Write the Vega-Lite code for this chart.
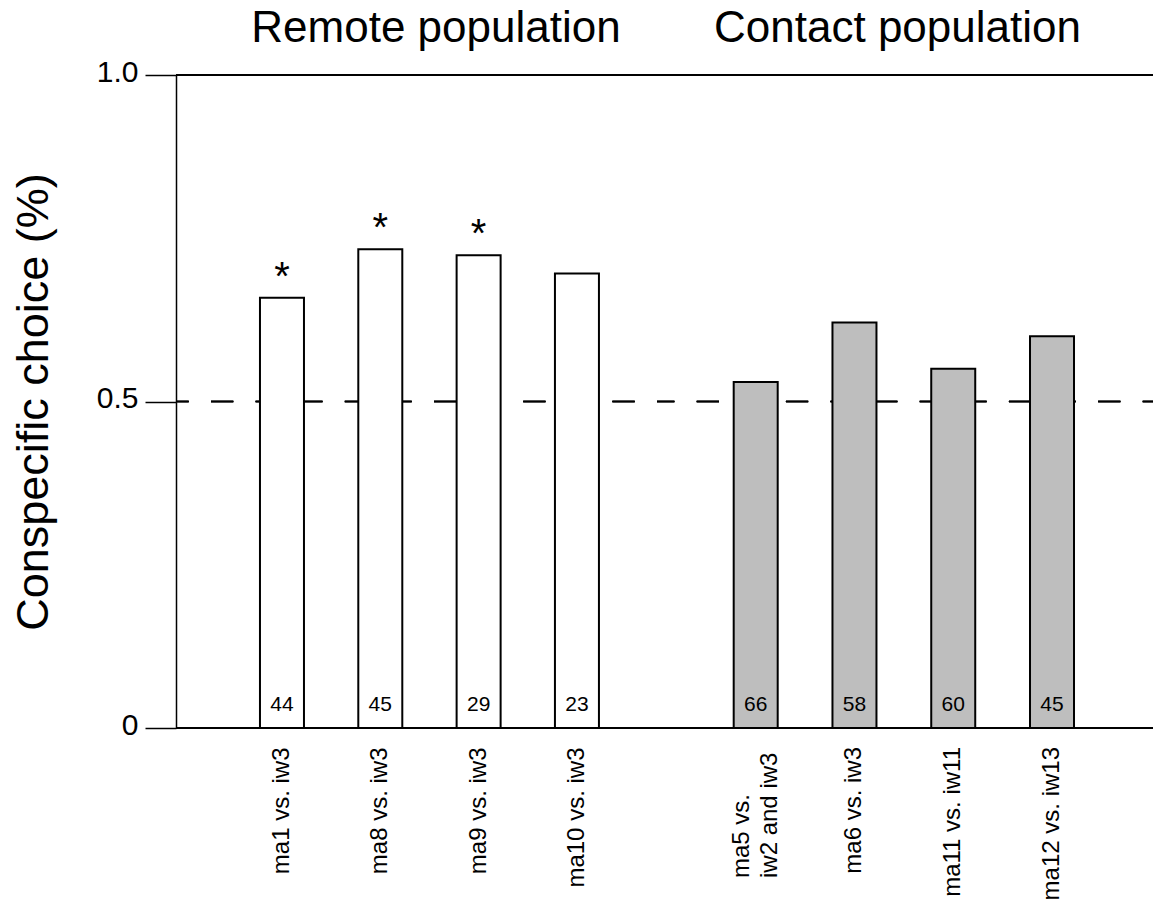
{
  "$schema": "https://vega.github.io/schema/vega-lite/v6.json",
  "padding": {"left": 11, "top": 7, "right": 0, "bottom": 0},
  "config": {"view": {"stroke": null}, "font": "Liberation Sans"},
  "data": {"values": [
    {"group": "Remote", "pair": "ma1 vs. iw3", "choice": 0.659, "n": 44, "sig": "*"},
    {"group": "Remote", "pair": "ma8 vs. iw3", "choice": 0.733, "n": 45, "sig": "*"},
    {"group": "Remote", "pair": "ma9 vs. iw3", "choice": 0.724, "n": 29, "sig": "*"},
    {"group": "Remote", "pair": "ma10 vs. iw3", "choice": 0.696, "n": 23, "sig": ""},
    {"group": "Contact", "pair": "ma5 vs.\niw2 and iw3", "choice": 0.530, "n": 66, "sig": ""},
    {"group": "Contact", "pair": "ma6 vs. iw3", "choice": 0.621, "n": 58, "sig": ""},
    {"group": "Contact", "pair": "ma11 vs. iw11", "choice": 0.550, "n": 60, "sig": ""},
    {"group": "Contact", "pair": "ma12 vs. iw13", "choice": 0.600, "n": 45, "sig": ""}
  ]},
  "spacing": 0,
  "bounds": "flush",
  "resolve": {"scale": {"x": "independent", "y": "independent"}},
  "hconcat": [
    {
      "title": {"text": "Remote population", "fontSize": 44, "fontWeight": "normal", "offset": 6, "dx": 15, "color": "black"},
      "width": 490,
      "height": 653,
      "transform": [{"filter": "datum.group == 'Remote'"}],
      "layer": [
        {
          "mark": {"type": "bar", "fill": "white", "stroke": "black", "strokeWidth": 2, "opacity": 0},
          "encoding": {
            "x": {"field": "pair", "type": "nominal", "sort": null,
              "scale": {"paddingInner": 0.5525, "paddingOuter": 0.768, "align": 0.556},
              "axis": {"title": null, "labelAngle": -90, "labelFontSize": 24, "labelColor": "black", "labelPadding": 19, "labelAlign": "right", "labelBaseline": "middle", "ticks": false, "tickSize": 0, "domain": false, "labelLimit": 0}},
            "y": {"field": "choice", "type": "quantitative", "scale": {"domain": [0, 1], "nice": false},
              "axis": {"title": "Conspecific choice (%)", "titleFontSize": 45, "titleFontWeight": "normal", "titleColor": "black", "titlePadding": 40, "values": [0, 0.5, 1], "labelExpr": "datum.value == 0 ? '0' : format(datum.value, '.1f')", "labelFontSize": 30, "labelColor": "black", "labelPadding": 7, "labelOffset": -3, "tickSize": 31, "tickColor": "black", "tickWidth": 1.5, "domainColor": "black", "domainWidth": 1.5, "grid": false}}
          }
        },
        {"mark": {"type": "rule", "strokeDash": [22.3, 22.3], "strokeDashOffset": 13.3, "strokeWidth": 1.5, "color": "black"}, "encoding": {"y": {"datum": 0.5, "type": "quantitative", "title": "Conspecific choice (%)"}}},
        {
          "mark": {"type": "bar", "fill": "white", "stroke": "black", "strokeWidth": 2},
          "encoding": {
            "x": {"field": "pair", "type": "nominal", "sort": null, "title": null},
            "y": {"field": "choice", "type": "quantitative", "title": "Conspecific choice (%)"}
          }
        },
        {"mark": {"type": "rule", "strokeWidth": 1.5, "color": "black"}, "encoding": {"y": {"datum": 0, "type": "quantitative", "title": "Conspecific choice (%)"}}},
        {"mark": {"type": "rule", "strokeWidth": 1.5, "color": "black"}, "encoding": {"y": {"datum": 1, "type": "quantitative", "title": "Conspecific choice (%)"}}},
        {
          "mark": {"type": "text", "fontSize": 21, "baseline": "alphabetic", "dy": -17, "color": "black"},
          "encoding": {
            "x": {"field": "pair", "type": "nominal", "sort": null, "title": null},
            "y": {"datum": 0, "type": "quantitative", "title": "Conspecific choice (%)"},
            "text": {"field": "n"}
          }
        },
        {
          "mark": {"type": "text", "fontSize": 40, "baseline": "alphabetic", "dy": -8, "color": "black"},
          "encoding": {
            "x": {"field": "pair", "type": "nominal", "sort": null, "title": null},
            "y": {"field": "choice", "type": "quantitative", "title": "Conspecific choice (%)"},
            "text": {"field": "sig"}
          }
        }
      ]
    },
    {
      "title": {"text": "Contact population", "fontSize": 44, "fontWeight": "normal", "offset": 23, "dx": -12, "color": "black"},
      "width": 487,
      "height": 653,
      "transform": [{"filter": "datum.group == 'Contact'"}],
      "layer": [
        {"mark": {"type": "rule", "strokeDash": [22.3, 22.3], "strokeDashOffset": 12, "strokeWidth": 1.5, "color": "black"}, "encoding": {"y": {"datum": 0.5, "type": "quantitative", "axis": null}}},
        {
          "mark": {"type": "bar", "fill": "#bebebe", "stroke": "black", "strokeWidth": 2},
          "encoding": {
            "x": {"field": "pair", "type": "nominal", "sort": null,
              "scale": {"paddingInner": 0.5545, "paddingOuter": 0.7426, "align": 0.4615},
              "axis": {"title": null, "labels": false, "ticks": false, "tickSize": 0, "domain": false}},
            "y": {"field": "choice", "type": "quantitative", "scale": {"domain": [0, 1], "nice": false}, "axis": null}
          }
        },
        {"mark": {"type": "rule", "strokeWidth": 1.5, "color": "black"}, "encoding": {"y": {"datum": 0, "type": "quantitative", "axis": null}}},
        {"mark": {"type": "rule", "strokeWidth": 1.5, "color": "black"}, "encoding": {"y": {"datum": 1, "type": "quantitative", "axis": null}}},
        {
          "mark": {"type": "text", "fontSize": 21, "baseline": "alphabetic", "dy": -17, "color": "black"},
          "encoding": {
            "x": {"field": "pair", "type": "nominal", "sort": null, "title": null},
            "y": {"datum": 0, "type": "quantitative", "axis": null},
            "text": {"field": "n"}
          }
        },
        {
          "mark": {"type": "text", "angle": -90, "fontSize": 24, "color": "black", "baseline": "middle", "lineBreak": "\n", "lineHeight": 28,
            "align": {"expr": "indexof(datum.pair, '\\n') >= 0 ? 'left' : 'right'"},
            "dx": {"expr": "indexof(datum.pair, '\\n') >= 0 ? -150 : -19"},
            "dy": {"expr": "indexof(datum.pair, '\\n') >= 0 ? -14 : 0"}},
          "encoding": {
            "x": {"field": "pair", "type": "nominal", "sort": null, "title": null},
            "y": {"datum": 0, "type": "quantitative", "axis": null},
            "text": {"field": "pair"}
          }
        }
      ]
    }
  ]
}
